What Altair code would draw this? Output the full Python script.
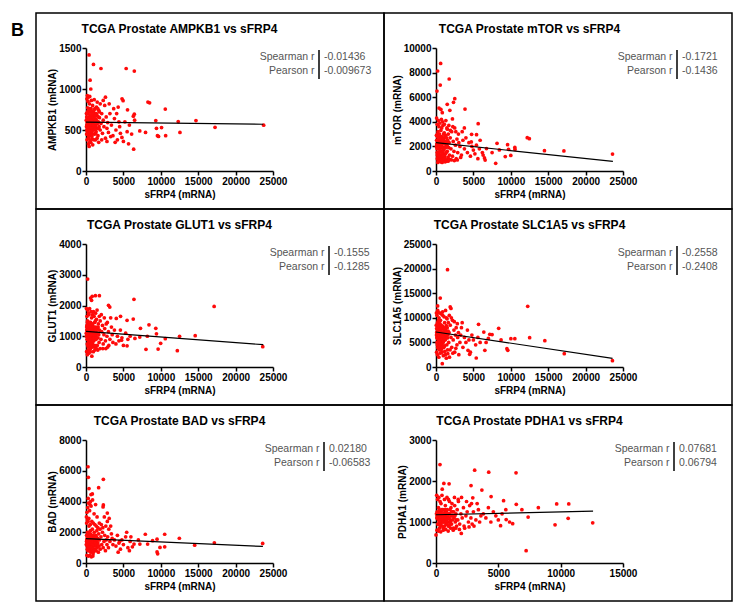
import altair as alt
import pandas as pd

FONT = "Liberation Sans"

GENES = ["AMPKB1", "mTOR", "GLUT1", "SLC1A5", "BAD", "PDHA1"]
SPEARMAN = ["-0.01436", "-0.1721", "-0.1555", "-0.2558", "0.02180", "0.07681"]
PEARSON = ["-0.009673", "-0.1436", "-0.1285", "-0.2408", "-0.06583", "0.06794"]
STAT_LABELS = ["Spearman r", "Pearson r"]

X_TICKS = [0, 5000, 10000, 15000, 20000, 25000]
X_TICKS_PDHA1 = [0, 5000, 10000, 15000]
Y_TICKS = {
    "AMPKB1": [0, 500, 1000, 1500],
    "mTOR": [0, 2000, 4000, 6000, 8000, 10000],
    "GLUT1": [0, 1000, 2000, 3000, 4000],
    "SLC1A5": [0, 5000, 10000, 15000, 20000, 25000],
    "BAD": [0, 2000, 4000, 6000, 8000],
    "PDHA1": [0, 1000, 2000, 3000],
}

# fitted line end points
LINE_X = {
    "AMPKB1": [0, 23700], "mTOR": [0, 23650], "GLUT1": [0, 23700],
    "SLC1A5": [0, 23600], "BAD": [0, 23650], "PDHA1": [0, 12600],
}
LINE_Y = {
    "AMPKB1": [595, 570], "mTOR": [2300, 786], "GLUT1": [1160, 726],
    "SLC1A5": [7114, 1760], "BAD": [1590, 1075], "PDHA1": [1177, 1265],
}

AMPKB1_PTS = [
    (100,560),(150,620),(200,480),(250,700),(300,540),(350,650),(400,590),(450,430),(500,760),(550,520),
    (600,610),(650,680),(700,470),(750,560),(800,640),(850,390),(900,720),(950,580),(1000,500),(1050,660),
    (1100,610),(1150,450),(1200,700),(1250,550),(1300,630),(1350,480),(1400,780),(1450,590),(1500,520),(1550,670),
    (1600,430),(1650,600),(1700,740),(1750,540),(1800,650),(1900,500),(2000,580),(2100,700),(2200,460),(2300,620),
    (2400,540),(2500,800),(2600,400),(2700,660),(2800,520),(2900,590),(3000,470),(3200,700),(3400,560),(3600,430),
    (120,880),(180,920),(260,850),(330,330),(420,300),(500,910),(640,350),(720,860),(900,320),(1100,870),
    (1300,380),(1500,840),(1700,350),(1900,820),(2100,380),(2300,860),(2600,900),(2800,360),(3100,820),(3300,420),
    (60,700),(80,450),(140,380),(220,770),(300,900),(380,420),(460,820),(560,380),(680,760),(780,420),
    (880,800),(980,680),(1080,380),(1180,760),(1280,460),(1380,700),(1480,400),(1580,760),(1680,520),(1780,720),
    (3800,640),(4000,500),(4200,380),(4400,600),(4600,460),(3700,760),(3900,350),(4100,700),(4500,540),(4800,410),
    (5200,600),(5500,480),(5800,560),(6100,450),(6500,620),(5000,360),(4300,780),
    (40,620),(110,500),(210,640),(310,470),(410,720),(510,600),(610,450),(710,650),(810,530),(910,600),
    (410,1415),(1000,1300),(2000,1250),(5370,1250),(6460,1218),(550,1107),(640,1000),(4820,880),(4960,857),
    (8280,840),(8500,832),(10600,755),(5550,746),(9330,615),(12330,603),(14700,615),(23750,558),(17250,533),
    (7190,488),(7960,471),(9420,520),(10100,529),(9550,430),(9700,422),(10650,430),(12560,471),(5690,332),
    (6370,266),(6460,693),(6330,668),
]
AMPKB1_CORE = [
    (70,540),(90,660),(160,590),(190,720),(240,520),(270,610),(340,560),(360,740),(440,640),(470,540),
    (530,680),(570,600),(620,730),(660,520),(730,610),(760,690),(830,580),(870,500),(940,650),(1020,560),
    (1060,740),(1120,530),(1160,640),(1220,600),(1260,680),(1330,560),(1370,620),(1420,680),(1520,580),(1620,660),
    (170,450),(290,400),(390,500),(490,350),(590,480),(690,560),(790,480),(890,450),(990,560),(1140,510),
]

MTOR_PTS = [
    (100,2200),(150,1500),(200,3000),(250,1100),(300,2600),(350,1800),(400,3600),(450,1300),(500,2400),(550,900),
    (600,2000),(650,3300),(700,1600),(750,2800),(800,1200),(850,2200),(900,4000),(950,1700),(1000,2600),(1050,1000),
    (1100,3100),(1150,1900),(1200,2400),(1250,1400),(1300,2900),(1350,800),(1400,2100),(1450,3500),(1500,1600),(1550,2500),
    (1600,1100),(1650,3000),(1700,1900),(1750,2300),(1800,1300),(1900,2700),(2000,1800),(2100,3200),(2200,1200),(2300,2400),
    (2400,1600),(2500,3500),(2600,2100),(2700,1000),(2800,2600),(2900,1500),(3000,3000),(3200,2000),(3400,1300),(3600,2500),
    (80,4300),(160,3800),(240,700),(320,4100),(420,800),(520,3900),(620,750),(720,4200),(820,700),(920,3700),
    (1020,850),(1120,3800),(1220,750),(1320,4100),(1420,900),(1520,3400),(1620,800),(1720,3700),(1820,950),(1920,3300),
    (2050,900),(2250,3600),(2450,850),(2650,3200),(2850,900),(3050,2300),(3300,1100),(3500,3200),(3800,1800),(4000,2700),
    (4200,1500),(4400,2300),(4600,1200),(4800,2000),(5000,1700),(5200,1400),(5400,2100),(5600,1000),(5800,1800),(6200,1500),
    (60,2900),(130,1800),(330,2300),(470,1900),(580,2800),(680,2300),(780,1900),(880,2700),(980,1400),(1080,2300),
    (620,8750),(220,8130),(1760,7480),(570,6990),(130,6500),(1500,5420),(2340,5580),(2510,5880),(3880,5040),
    (660,5010),(840,4740),(400,5120),(5640,3850),(2200,4230),(1850,4930),(4760,2980),(3790,3500),(12200,2710),
    (12480,2630),(14500,1650),(17100,1630),(23600,1380),(9570,2140),(9700,1760),(10540,1920),(10560,1750),
    (8160,2250),(7980,620),(6480,1060),(6570,890),(8470,1710),(9260,1170),(10000,1270),(5420,2950),(4720,2360),
    (6750,1820),(7500,1500),(5900,2500),(6300,1300),
]
MTOR_CORE = [
    (70,2000),(90,2500),(160,1300),(190,2800),(240,1900),(270,3200),(340,1500),(360,2700),(440,2100),(470,3000),
    (530,1700),(570,2200),(620,1300),(660,2600),(730,2000),(760,3500),(830,1500),(870,2400),(940,1900),(1020,3000),
    (1060,1700),(1120,2200),(1160,1200),(1220,2800),(1260,1900),(1330,2400),(1370,1500),(1420,2700),(1520,2000),(1620,2300),
    (170,1000),(290,900),(390,1200),(490,1000),(590,1100),(690,1000),(790,1400),(890,1100),(990,1200),(1140,1000),
]

GLUT1_PTS = [
    (100,1200),(150,900),(200,1500),(250,700),(300,1300),(350,1000),(400,1700),(450,800),(500,1150),(550,1400),
    (600,600),(650,1250),(700,950),(750,1600),(800,1100),(850,750),(900,1350),(950,1050),(1000,1800),(1050,850),
    (1100,1200),(1150,1450),(1200,650),(1250,1000),(1300,1300),(1350,900),(1400,1550),(1450,1100),(1500,700),(1550,1250),
    (1600,950),(1650,1400),(1700,1050),(1750,800),(1800,1200),(1900,1500),(2000,900),(2100,1150),(2200,1350),(2300,750),
    (2400,1050),(2500,1250),(2600,850),(2700,1400),(2800,1000),(2900,650),(3000,1150),(3200,900),(3400,1300),(3600,800),
    (60,1900),(80,500),(130,1650),(180,400),(230,1850),(280,550),(330,1750),(380,450),(480,1900),(580,500),
    (680,1800),(780,350),(880,1700),(980,500),(1080,1650),(1180,550),(1280,1750),(1380,600),(1480,1850),(1580,550),
    (1780,1650),(1880,600),(2050,1700),(2250,600),(2450,1600),(2650,600),(2850,1450),(3050,700),(3300,1600),(3500,1050),
    (3800,1200),(4000,750),(4200,1000),(4400,850),(4600,1200),(4800,950),(5000,700),(5300,1100),(5600,900),(5900,1000),
    (40,1100),(120,1350),(220,1050),(320,850),(420,1250),(520,950),(620,1450),(720,1150),(820,1000),(920,1250),
    (220,2860),(610,2240),(830,2300),(1260,2320),(1790,2320),(740,2170),(3010,2005),(3180,1950),(6410,2200),
    (17130,1970),(4620,1650),(5490,1520),(4050,1580),(6320,1560),(7280,1260),(8420,1370),(9330,1260),(9420,1080),
    (12510,1000),(14600,1020),(23630,660),(10600,920),(9980,770),(9640,585),(8020,575),(12210,530),(6540,930),
    (5490,690),(4750,870),(7190,975),(8200,1000),
]
GLUT1_CORE = [
    (70,1000),(90,1300),(160,1100),(190,1450),(240,950),(270,1200),(340,1350),(360,1100),(440,1000),(470,1450),
    (530,1250),(570,1050),(620,900),(660,1350),(730,1050),(760,1250),(830,1400),(870,1150),(940,900),(1020,1300),
    (1060,1050),(1120,950),(1160,1250),(1220,1100),(1260,1500),(1330,1050),(1370,1200),(1420,950),(1520,1100),(1620,1300),
    (170,750),(290,650),(390,800),(490,700),(590,850),(690,700),(790,800),(890,650),(990,850),(1140,700),
]

SLC1A5_PTS = [
    (100,7000),(150,5000),(200,9000),(250,4000),(300,8000),(350,6000),(400,10000),(450,3500),(500,7500),(550,5500),
    (600,9500),(650,4500),(700,8500),(750,6500),(800,3000),(850,7000),(900,10500),(950,5000),(1000,8000),(1050,4000),
    (1100,6500),(1150,9000),(1200,5500),(1250,2500),(1300,7500),(1350,6000),(1400,10000),(1450,4500),(1500,8000),(1550,3500),
    (1600,6500),(1650,9000),(1700,5000),(1750,7000),(1800,2000),(1900,8500),(2000,6000),(2100,4000),(2200,9500),(2300,5500),
    (2400,7500),(2500,3000),(2600,6500),(2700,8000),(2800,4500),(2900,6000),(3000,7000),(3200,5000),(3400,8000),(3600,4000),
    (60,11000),(80,3000),(130,10500),(180,2500),(230,11500),(280,4500),(330,9500),(380,2000),(480,11000),(580,2800),
    (680,10800),(780,3800),(880,11200),(980,2300),(1080,10200),(1180,3200),(1280,11500),(1380,1800),(1480,9800),(1580,2700),
    (1780,10500),(1880,3500),(2050,10000),(2250,2800),(2450,9200),(2650,3800),(2850,8800),(3050,2500),(3300,6500),(3500,9000),
    (3800,6000),(4000,5000),(4200,7500),(4400,5500),(4600,3000),(4800,6500),(5000,5500),(5300,4500),(5600,6000),(5900,5000),
    (40,8500),(120,6000),(220,7200),(320,5200),(420,6800),(520,8800),(620,6200),(720,5800),(820,7800),(920,6200),
    (1540,19780),(570,14020),(220,12400),(1900,12200),(2000,11900),(12260,12330),(5690,8670),(8380,7860),(6390,7110),
    (7190,6640),(7500,6600),(10010,5760),(10540,5760),(12520,5960),(14550,5350),(17150,2710),(23590,1290),(5380,1830),
    (6530,3390),(9480,3730),(9600,3400),(4280,3390),(4500,2570),(840,680),(7000,5800),(8700,5500),(6700,5000),
]
SLC1A5_CORE = [
    (70,6500),(90,7800),(160,7200),(190,5800),(240,8500),(270,6800),(340,7500),(360,5500),(440,8200),(470,6200),
    (530,6800),(570,7700),(620,5200),(660,7200),(730,8000),(760,6300),(830,5700),(870,8300),(940,6900),(1020,6200),
    (1060,7400),(1120,5800),(1160,7900),(1220,6800),(1260,5600),(1330,7200),(1370,8400),(1420,6600),(1520,5900),(1620,7300),
    (170,4500),(290,3800),(390,5000),(490,4200),(590,4800),(690,3500),(790,4600),(890,4000),(990,5200),(1140,4300),
]

BAD_PTS = [
    (100,1500),(150,1100),(200,2000),(250,800),(300,1700),(350,1300),(400,2400),(450,900),(500,1600),(550,1200),
    (600,2100),(650,700),(700,1400),(750,1800),(800,1000),(850,2200),(900,1300),(950,600),(1000,1700),(1050,1100),
    (1100,2000),(1150,900),(1200,1500),(1250,1200),(1300,1800),(1350,800),(1400,1400),(1450,2100),(1500,1000),(1550,1600),
    (1600,1300),(1650,700),(1700,1900),(1750,1100),(1800,1500),(1900,900),(2000,1700),(2100,1200),(2200,2000),(2300,1000),
    (2400,1400),(2500,1800),(2600,800),(2700,1500),(2800,1200),(2900,1700),(3000,1000),(3200,1400),(3400,1900),(3600,1200),
    (60,3000),(80,2600),(130,3300),(180,2800),(230,3600),(280,2700),(330,3900),(380,2900),(480,3400),(580,2500),
    (680,3700),(780,2700),(880,4100),(980,2600),(1080,3200),(1180,2500),(1280,3800),(1380,2400),(1480,3000),(1580,2300),
    (1780,2600),(1880,2200),(2050,2500),(2250,2300),(2450,3000),(2650,2400),(2850,2700),(3050,2200),(3300,2400),(3500,1600),
    (3800,1500),(4000,1100),(4200,1800),(4400,1300),(4600,900),(4800,1500),(5000,1200),(5300,1700),(5600,1000),(5900,1400),
    (40,1200),(120,500),(220,1300),(320,450),(420,1150),(520,500),(620,1250),(720,400),(820,1350),(920,450),
    (270,6260),(310,5570),(2320,5440),(1690,4900),(400,4840),(670,4450),(850,4490),(300,4200),(600,4000),(530,3800),
    (2320,3780),(2280,3650),(2850,3250),(3100,2900),(5440,2000),(7930,1870),(10520,1870),(12480,1610),(14530,1160),
    (17160,1310),(23620,1270),(8900,1450),(9500,1550),(9580,600),(9500,720),(10520,1050),(9890,1010),(6420,1230),
    (6200,1050),(7200,1230),(8240,1230),(4500,1400),(6000,1700),(7000,1500),(5800,800),(4300,700),
]
BAD_CORE = [
    (70,1400),(90,1800),(160,1600),(190,1200),(240,1900),(270,1400),(340,1600),(360,2000),(440,1300),(470,1700),
    (530,1400),(570,1900),(620,1500),(660,1100),(730,1700),(760,1300),(830,1600),(870,1200),(940,1800),(1020,1400),
    (1060,1600),(1120,1200),(1160,1700),(1220,1300),(1260,1500),(1330,1100),(1370,1700),(1420,1200),(1520,1500),(1620,1100),
    (170,900),(290,1000),(390,800),(490,1000),(590,900),(690,1000),(790,800),(890,900),(990,750),(1140,800),
]

PDHA1_PTS = [
    (100,1150),(150,950),(200,1350),(250,1050),(300,1250),(350,900),(400,1450),(450,1100),(500,1000),(550,1300),
    (600,850),(650,1200),(700,1050),(750,1400),(800,950),(850,1150),(900,1300),(950,1000),(1000,1550),(1050,900),
    (1100,1200),(1150,1050),(1200,1350),(1250,950),(1300,1150),(1350,1250),(1400,850),(1450,1100),(1500,1400),(1550,1000),
    (1600,1200),(1650,900),(1700,1300),(1750,1050),(1800,1500),(1900,950),(2000,1200),(2100,1100),(2200,1350),(2300,850),
    (2400,1150),(2500,1250),(2600,1000),(2700,1400),(2800,1100),(2900,950),(3000,1250),(3200,1050),(3400,1300),(3600,1150),
    (60,1650),(80,800),(130,1550),(180,780),(230,1600),(280,850),(330,1500),(380,760),(480,1650),(580,800),
    (680,1550),(780,820),(880,1600),(980,780),(1080,1500),(1180,850),(1280,1450),(1380,800),(1480,1600),(1580,850),
    (1780,1550),(1880,820),(2050,1600),(2250,900),(2450,1500),(2650,880),(2850,1450),(3050,900),(3300,1450),(3500,1000),
    (3800,1200),(4000,1100),(4200,1350),(4400,1000),(4600,1250),(4800,1150),(5000,1050),(5300,1200),(5600,1300),(5900,1000),
    (40,1200),(120,1100),(220,1200),(320,1150),(420,1250),(520,1180),(620,1100),(720,1250),(820,1200),(920,1080),
    (320,2400),(3100,2265),(4230,2215),(6420,2200),(630,1940),(1050,1930),(2810,1890),(3680,1780),(500,1800),
    (4420,1620),(5420,1520),(2950,1590),(6440,1430),(8210,1350),(9680,1440),(10650,1440),(10600,1090),(9550,930),
    (12570,980),(7390,1120),(7230,300),(5180,910),(5630,1060),(6150,960),(6890,1300),(0,685),(2030,720),
]
PDHA1_CORE = [
    (70,1100),(90,1250),(160,1200),(190,1050),(240,1150),(270,1300),(340,1100),(360,1200),(440,1050),(470,1300),
    (530,1100),(570,1200),(620,1000),(660,1150),(730,1300),(760,1100),(830,1250),(870,1050),(940,1150),(1020,1200),
    (1060,1100),(1120,1300),(1160,1000),(1220,1150),(1260,1250),(1330,1050),(1370,1150),(1420,1250),(1520,1150),(1620,1050),
    (170,950),(290,1000),(390,950),(490,900),(590,1000),(690,900),(790,1000),(890,950),(990,900),(1140,950),
]

POINTS = {
    "AMPKB1": AMPKB1_PTS + AMPKB1_CORE, "mTOR": MTOR_PTS + MTOR_CORE,
    "GLUT1": GLUT1_PTS + GLUT1_CORE, "SLC1A5": SLC1A5_PTS + SLC1A5_CORE,
    "BAD": BAD_PTS + BAD_CORE, "PDHA1": PDHA1_PTS + PDHA1_CORE,
}

# layout (pixels)
PW, PH = 187, 123
BAR_X = [233, 241, 243, 241, 238, 238]


def panel(i):
    gene = GENES[i]
    col = i % 2
    xt = X_TICKS_PDHA1 if gene == "PDHA1" else X_TICKS
    yt = Y_TICKS[gene]
    xs = alt.Scale(domain=[xt[0], xt[-1]], nice=False)
    ys = alt.Scale(domain=[yt[0], yt[-1]], nice=False)
    X = alt.X("sfrp4:Q", scale=xs, axis=alt.Axis(values=xt, format="d", title="sFRP4 (mRNA)"))
    Y = alt.Y("expr:Q", scale=ys, axis=alt.Axis(values=yt, format="d", title=f"{gene} (mRNA)"))

    df = pd.DataFrame(POINTS[gene], columns=["sfrp4", "expr"])
    line_df = pd.DataFrame({"sfrp4": LINE_X[gene], "expr": LINE_Y[gene]})
    stat_df = pd.DataFrame({
        "lab": ["\n".join(STAT_LABELS)],
        "val": ["\n".join([SPEARMAN[i], PEARSON[i]])],
        "title": [f"TCGA Prostate {gene} vs sFRP4"],
    })
    one = pd.DataFrame({"k": [0]})

    if col == 0:
        bx0, bx1 = -50, 298
    else:
        bx0, bx1 = -52, 296

    border = alt.Chart(one).mark_rect(fillOpacity=0, stroke="black", strokeWidth=1.5).encode(
        x=alt.value(bx0), x2=alt.value(bx1), y=alt.value(-35), y2=alt.value(161)
    )
    pts = alt.Chart(df).mark_circle(size=14, color="#ff0a0a", opacity=1).encode(x=X, y=Y)
    line = alt.Chart(line_df).mark_line(color="black", strokeWidth=1.2).encode(x=X, y=Y)
    bx = BAR_X[i]
    title = alt.Chart(stat_df).mark_text(
        align="center", baseline="middle", font=FONT, fontSize=12, fontWeight="bold", color="black"
    ).encode(x=alt.value(PW / 2), y=alt.value(-19), text="title:N")
    lab = alt.Chart(stat_df).mark_text(
        align="right", baseline="top", font=FONT, fontSize=10.5, color="#555555",
        lineBreak="\n", lineHeight=14
    ).encode(x=alt.value(bx - 4.5), y=alt.value(3.5), text="lab:N")
    val = alt.Chart(stat_df).mark_text(
        align="left", baseline="top", font=FONT, fontSize=10.5, color="#555555",
        lineBreak="\n", lineHeight=14
    ).encode(x=alt.value(bx + 5), y=alt.value(3.5), text="val:N")
    bar = alt.Chart(one).mark_rule(color="black", strokeWidth=1.5).encode(
        x=alt.value(bx), y=alt.value(2), y2=alt.value(31)
    )
    layers = [border, pts, line, title, lab, val, bar]
    if i == 0:
        letter = alt.Chart(pd.DataFrame({"t": ["B"]})).mark_text(
            align="left", baseline="middle", font=FONT, fontSize=18, fontWeight="bold", color="black"
        ).encode(x=alt.value(-75), y=alt.value(-17), text="t:N")
        layers.append(letter)
    return alt.layer(*layers).properties(width=PW, height=PH)


panels = [panel(i) for i in range(6)]

chart = alt.concat(
    *panels, columns=2, spacing={"row": 196 - PH, "column": 350 - PW}, bounds="flush"
).properties(
    padding={"left": 3, "top": 4, "right": 5, "bottom": 5}
).configure_view(stroke=None).configure_axis(
    domainColor="black", domainWidth=1.5, tickColor="black", tickWidth=1.5, tickSize=4,
    labelFont=FONT, labelFontSize=10, labelFontWeight="bold", labelColor="black", labelPadding=1,
    titleFont=FONT, titleFontSize=10, titleFontWeight="bold", titleColor="black",
    grid=False, labelFlush=False, labelOverlap=False
).configure_axisX(titlePadding=3).configure_axisY(titlePadding=1)

chart.save("out.html", embed_options={"renderer": "svg", "actions": False})
